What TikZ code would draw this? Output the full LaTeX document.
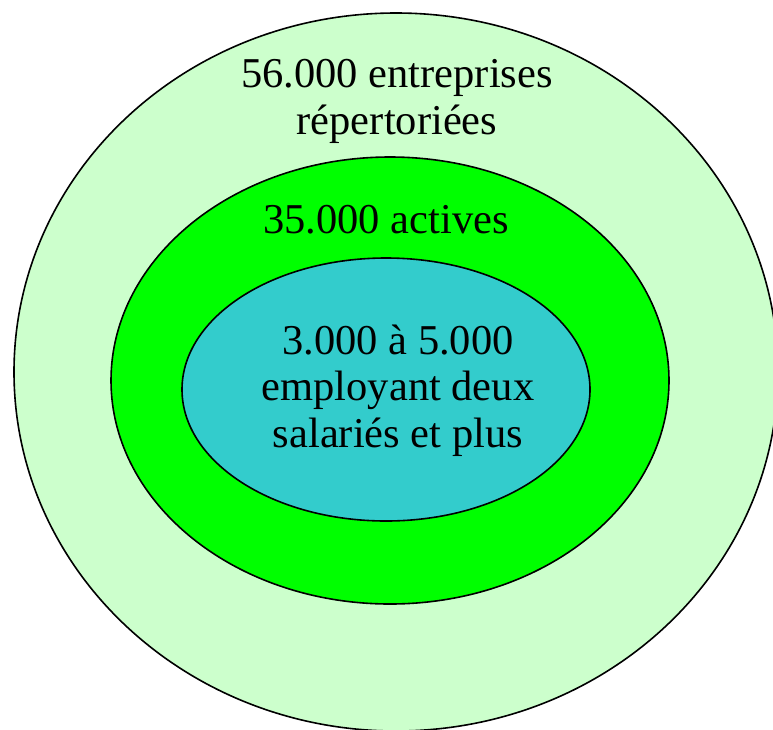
\documentclass[tikz,border=0pt]{standalone}
\usepackage{fontspec}
\setmainfont{Liberation Serif}
\definecolor{outerg}{HTML}{CCFFCC}
\definecolor{midg}{HTML}{00FF00}
\definecolor{innerc}{HTML}{33CCCC}
\tikzset{
  ring/.style={draw=black, line width=1.6pt},
  lbl/.style={align=center, inner sep=0pt, anchor=base,
    font=\fontsize{42.5}{46.5}\selectfont}
}
\begin{document}
\begin{tikzpicture}[x=1pt,y=-1pt]
\useasboundingbox (0,0) rectangle (773,729);
\begin{scope}
\clip (0,0) rectangle (773,729);
\path[ring, fill=outerg] (396,372) ellipse [x radius=382pt, y radius=359pt];
\end{scope}
\path[ring, fill=midg] (390,380.5) ellipse [x radius=279pt, y radius=223.5pt];
\path[ring, fill=innerc] (386,389.5) ellipse [x radius=204pt, y radius=131.5pt];
\node[lbl] (t1) at (397,134) {56.000 entreprises\\répertoriées};
\node[lbl] (t2) at (386,233) {35.000 actives};
\node[lbl] (t3) at (398,447) {3.000 à 5.000\\employant deux\\salariés et plus};
\end{tikzpicture}
\end{document}
